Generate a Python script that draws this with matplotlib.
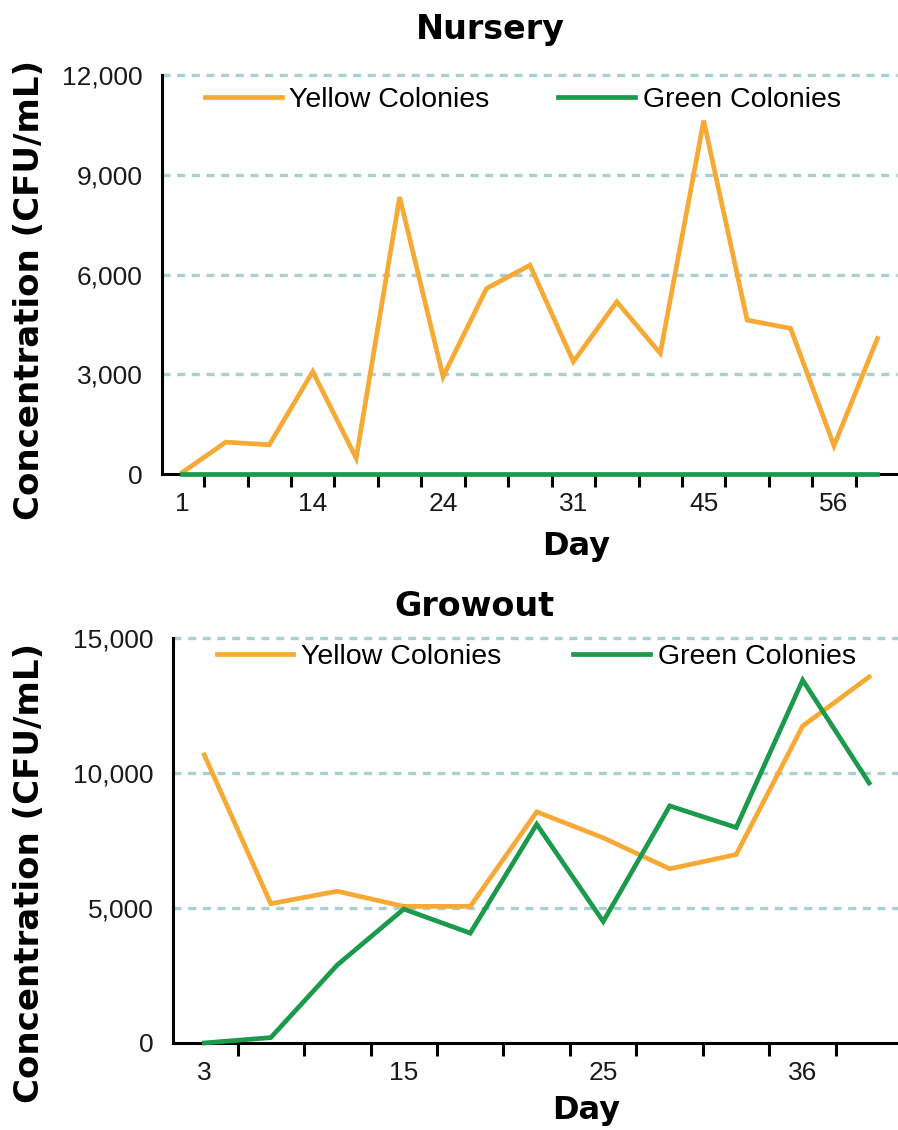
import matplotlib
matplotlib.use("Agg")
import matplotlib.pyplot as plt
from matplotlib.ticker import FixedLocator, NullFormatter

# Nursery data (17 sampling days, only some days are labelled)
nursery_days = ["1", "", "", "14", "", "", "24", "", "", "31", "", "", "45", "", "", "56", ""]
nursery_yellow = [50, 960, 880, 3080, 480, 8330, 2930, 5580, 6280, 3380, 5180, 3630,
                  10630, 4630, 4380, 850, 4080]
nursery_green = [0] * 17

# Growout data (11 sampling days)
growout_days = ["3", "", "", "15", "", "", "25", "", "", "36", ""]
growout_yellow = [10670, 5160, 5620, 5060, 5060, 8560, 7600, 6450, 6980, 11740, 13560]
growout_green = [0, 200, 2890, 4960, 4070, 8100, 4500, 8780, 7980, 13440, 9630]

nursery_yticks = [0, 3000, 6000, 9000, 12000]
growout_yticks = [0, 5000, 10000, 15000]

YELLOW = "#f7a935"
GREEN = "#1c9a4c"
GRID = "#a9cfd3"
TICK_FONT = "Liberation Sans"
HEAD_FONT = "DejaVu Sans"

fig = plt.figure(figsize=(8.98, 11.30), dpi=100)


def draw_panel(ax, days, yellow, green, yticks, ylim, legend_anchor, colspace):
    x = list(range(len(days)))
    # dashed horizontal guides (skip zero, which is the axis itself)
    for yv in yticks[1:]:
        ax.axhline(yv, color=GRID, lw=2.4, dashes=(2.4, 2.0), zorder=1, clip_on=False)
    ax.plot(x, yellow, color=YELLOW, lw=3.4, zorder=3, clip_on=False,
            solid_joinstyle="miter", label="Yellow Colonies")
    ax.plot(x, green, color=GREEN, lw=3.4, zorder=4, clip_on=False,
            solid_joinstyle="miter", label="Green Colonies")

    ax.set_xlim(-0.47, len(days) - 0.55)
    ax.set_ylim(*ylim)

    for side in ["top", "right"]:
        ax.spines[side].set_visible(False)
    for side in ["left", "bottom"]:
        ax.spines[side].set_linewidth(2.2)
        ax.spines[side].set_zorder(2)

    # x: labels at category centres, tick marks on category boundaries
    ax.xaxis.set_major_locator(FixedLocator(x))
    ax.set_xticklabels(days)
    ax.xaxis.set_minor_locator(FixedLocator([i + 0.5 for i in x]))
    ax.xaxis.set_minor_formatter(NullFormatter())
    ax.tick_params(axis="x", which="major", length=0, pad=13)
    ax.tick_params(axis="x", which="minor", length=9, width=2.2, direction="out")

    # y: labels on every tick, only the zero tick has a mark
    ax.yaxis.set_major_locator(FixedLocator(yticks))
    ax.set_yticklabels([f"{v:,}" for v in yticks])
    ax.yaxis.set_minor_locator(FixedLocator([0]))
    ax.yaxis.set_minor_formatter(NullFormatter())
    ax.tick_params(axis="y", which="major", length=0, pad=14)
    ax.tick_params(axis="y", which="minor", length=9, width=2.2, direction="out")

    for lab in ax.get_xticklabels() + ax.get_yticklabels():
        lab.set_fontfamily(TICK_FONT)
        lab.set_fontsize(19)
        lab.set_color("#1a1a1a")

    ax.legend(loc="center left", bbox_to_anchor=legend_anchor, ncol=2, frameon=False,
              prop={"family": TICK_FONT, "size": 20.5}, handlelength=2.7,
              handletextpad=0.28, columnspacing=colspace, borderaxespad=0, borderpad=0)
    ax.set_facecolor("none")


ax1 = fig.add_axes([0.1804, 0.5805, 0.8185, 0.3531])
draw_panel(ax1, nursery_days, nursery_yellow, nursery_green, nursery_yticks,
           (0, 12000), (0.058, 0.937), 2.4)

ax2 = fig.add_axes([0.1927, 0.0770, 0.8085, 0.3584])
draw_panel(ax2, growout_days, growout_yellow, growout_green, growout_yticks,
           (0, 15000), (0.06, 0.953), 2.5)

head = {"family": HEAD_FONT, "weight": "bold", "color": "black"}
fig.text(490 / 898, 1 - 30 / 1130, "Nursery", ha="center", va="center", fontsize=24, **head)
fig.text(474 / 898, 1 - 606 / 1130, "Growout", ha="center", va="center", fontsize=24, **head)
fig.text(576 / 898, 1 - 546 / 1130, "Day", ha="center", va="center", fontsize=23, **head)
fig.text(586 / 898, 1 - 1110 / 1130, "Day", ha="center", va="center", fontsize=23, **head)
fig.text(30 / 898, 1 - 290 / 1130, "Concentration (CFU/mL)", ha="center", va="center",
         rotation=90, fontsize=24.5, **head)
fig.text(30 / 898, 1 - 873 / 1130, "Concentration (CFU/mL)", ha="center", va="center",
         rotation=90, fontsize=24.5, **head)

fig.savefig("out.png", dpi=100, facecolor="white")
